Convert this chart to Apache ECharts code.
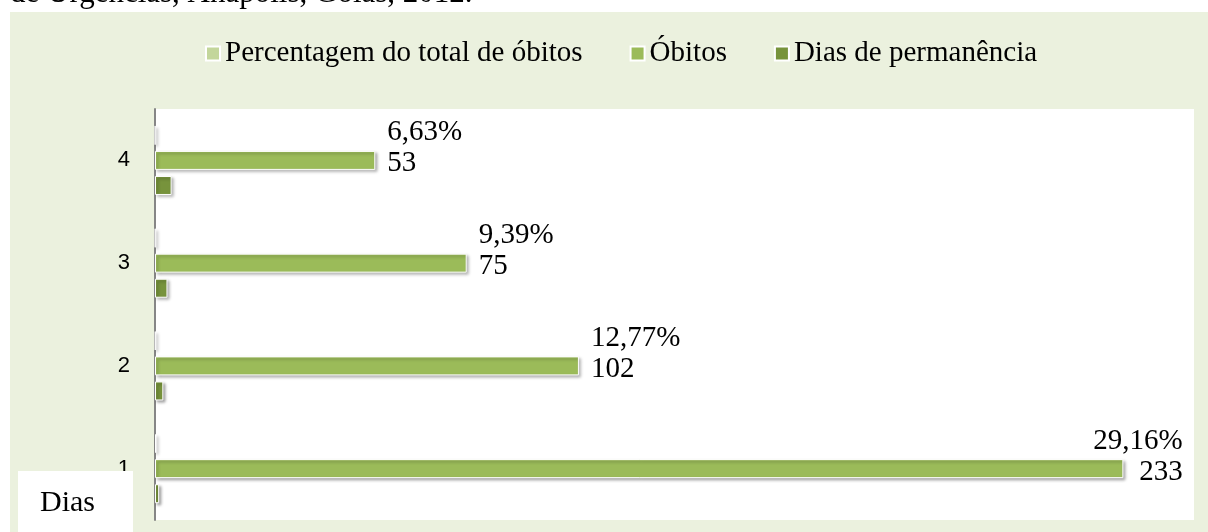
<!DOCTYPE html>
<html>
<head>
<meta charset="utf-8">
<script src="https://cdn.jsdelivr.net/npm/echarts@6/dist/echarts.min.js"></script>
<style>
  html, body { margin: 0; padding: 0; background: #fff; }
  #chart { width: 1208px; height: 532px; }
</style>
</head>
<body>
<div id="chart"></div>
<script>
  // categorias (dias de permanência)
  const dias = ['1', '2', '3', '4'];
  const obitos = [233, 102, 75, 53];
  const percentual = [29.16, 12.77, 9.39, 6.63];
  const permanencia = [1, 2, 3, 4];
  const percentualTexto = ['29,16%', '12,77%', '9,39%', '6,63%'];

  const serif = 'Liberation Serif';
  const barShadow = {
    borderColor: '#fff',
    borderWidth: 1,
    shadowColor: 'rgba(0,0,0,0.35)',
    shadowBlur: 3,
    shadowOffsetX: 2,
    shadowOffsetY: 2
  };
  const maxObitos = Math.max(...obitos);

  const chart = echarts.init(document.getElementById('chart'));

  const option = {
    backgroundColor: '#EBF1DE',
    animation: false,
    graphic: [
      // faixa branca no topo e à esquerda (fora do quadro do gráfico)
      { type: 'rect', left: 0, top: 0, shape: { width: 1208, height: 12 }, style: { fill: '#fff' }, z: 50 },
      { type: 'rect', left: 0, top: 0, shape: { width: 10, height: 532 }, style: { fill: '#fff' }, z: 50 },
      {
        type: 'text', x: 10, y: 9, z: 51,
        style: { text: 'de Urgências, Anápolis, Goiás, 2012.', font: '31px "Liberation Serif"', fill: '#000', verticalAlign: 'bottom' }
      },
      // caixa "Dias"
      { type: 'rect', left: 18, top: 471, shape: { width: 115, height: 61 }, style: { fill: '#fff' }, z: 100 },
      {
        type: 'text', x: 40, y: 503, z: 101,
        style: { text: 'Dias', font: '30px "Liberation Serif"', fill: '#000', verticalAlign: 'middle' }
      }
    ],
    legend: {
      left: 200,
      top: 34,
      itemWidth: 14,
      itemHeight: 14,
      itemGap: 47,
      icon: 'rect',
      data: ['Percentagem do total de óbitos', 'Óbitos', 'Dias de permanência'],
      textStyle: { fontFamily: serif, fontSize: 29, color: '#000' }
    },
    grid: {
      left: 155,
      right: 14,
      top: 109,
      bottom: 12,
      show: true,
      backgroundColor: '#fff',
      borderWidth: 0
    },
    xAxis: {
      type: 'value',
      min: 0,
      max: 250,
      show: false
    },
    yAxis: {
      type: 'category',
      data: dias,
      axisLine: { lineStyle: { color: '#868686', width: 2 } },
      axisTick: { show: false },
      axisLabel: {
        margin: 25,
        formatter: '{d|{value}}',
        rich: { d: { fontFamily: 'Liberation Sans', fontSize: 22, color: '#000' } }
      }
    },
    series: [
      {
        name: 'Percentagem do total de óbitos',
        type: 'bar',
        barWidth: 19,
        barGap: '32%',
        data: percentual.map(v => v / 100),
        itemStyle: Object.assign({ color: '#C3D69B' }, barShadow)
      },
      {
        name: 'Óbitos',
        type: 'bar',
        barWidth: 19,
        barGap: '32%',
        // o maior rótulo fica alinhado à direita para não sair do gráfico
        data: obitos.map(v => v === maxObitos
          ? { value: v, label: { offset: [-42, -12], rich: { p: { align: 'right' }, v: { align: 'right' } } } }
          : v),
        itemStyle: Object.assign({ color: '#9BBB59' }, barShadow),
        label: {
          show: true,
          position: 'right',
          distance: 12,
          offset: [0, -12],
          formatter: p => '{p|' + percentualTexto[p.dataIndex] + '}\n{v|' + p.value + '}',
          rich: {
            p: { fontFamily: serif, fontSize: 29, color: '#000', lineHeight: 31 },
            v: { fontFamily: serif, fontSize: 29, color: '#000', lineHeight: 31 }
          }
        }
      },
      {
        name: 'Dias de permanência',
        type: 'bar',
        barWidth: 19,
        barGap: '32%',
        data: permanencia,
        itemStyle: Object.assign({ color: '#77933C' }, barShadow)
      }
    ]
  };

  chart.setOption(option);
</script>
</body>
</html>
